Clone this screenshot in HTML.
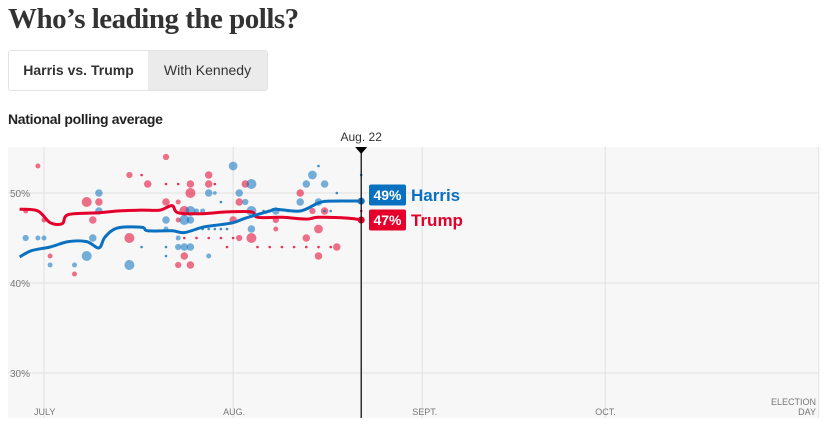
<!DOCTYPE html>
<html><head><meta charset="utf-8"><style>
body{margin:0;background:#fff;width:839px;height:442px;overflow:hidden;font-family:"Liberation Sans",sans-serif;}
h1{position:absolute;left:8px;top:3px;margin:0;font-family:"Liberation Serif",serif;font-weight:bold;font-size:29px;color:#333;letter-spacing:-0.5px}
.tabs{position:absolute;left:8px;top:50px;height:39px;display:flex;border:1px solid #e2e2e2;border-radius:3px;overflow:hidden}
.tab{font-size:14px;line-height:39px;color:#333;white-space:nowrap;text-align:center;box-sizing:border-box}
.t1{font-weight:bold;background:#fff;width:139px;}
.t2{background:#ebebeb;width:119px}
.sub{position:absolute;left:8px;top:111px;font-weight:bold;font-size:14px;color:#222;letter-spacing:-0.3px}
svg{position:absolute;left:0;top:0}
</style></head><body>
<h1>Who’s leading the polls?</h1>
<div class="tabs">
<div class="tab t1">Harris vs. Trump</div>
<div class="tab t2">With Kennedy</div>
</div>
<div class="sub">National polling average</div>
<svg id="c" width="839" height="442"></svg>
<script>
const yTicks=[50,40,30];
const monthLabels=["JULY","AUG.","SEPT.","OCT."];
const monthDays=[0,31,62,92];
const electionDay=127;
const todayDay=52;
const harrisDays=[-4,-2,1,4,7,9,10,12,16,17,21,23,26,28,31,33,37,38,42,45,47,52];
const harrisVals=[42.9,43.6,44.0,44.6,44.6,43.9,45.1,46.1,46.2,45.8,45.8,45.6,46.2,46.4,46.7,47.2,48.0,48.2,48.0,48.9,49.1,49.1];
const trumpDays=[-4,-1,1,3,4,9,12,16,19,21,22,26,30,34,35,39,43,45,50,52];
const trumpVals=[48.2,48.0,46.7,46.6,47.6,47.8,48.0,48.1,48.1,48.6,47.8,47.7,47.9,47.9,47.3,47.3,47.1,47.3,47.2,47.0];
// polls: day, value, size (1 tiny..4 big)
const redPolls=[[-1,53,2],[-3,48,2],[0,47,2],[1,43,2],[5,41,2],[7,49,4],[9,49,3],[8,47,3],[14,45,4],[14,52,2.5],[17,51,3],[16,52,1],[20,54,2.5],[20,49,3],[22,49,2],[24,50,4],[24,51,3],[27,52,3],[27,51,3],[23,48,4],[22,47,2],[23,43,3],[22,42,2.5],[24,42,3],[32,49,3],[31,47,3],[32,45,2.5],[34,45,4],[33,51,3],[38,47,2.5],[38,46,2],[42,50,3],[44,48,2.5],[45,46,3.5],[43,45,3],[45,43,3],[46,48,3],[48,44,3],[52,48,1],[20,51,1],[22,51,1],[28,51,1],
[23,45,1],[25,45,1],[27,45,1],[29,45,1],[31,45,1],[35,44,1],[37,44,1],[39,44,1],[41,44,1],[43,44,1],[45,44,1],[47,44,1],[30,44,1]];
const bluePolls=[[-3,45,2.5],[-1,45,2],[0,45,2],[1,42,2],[5,42,2],[7,43,4],[8,45,3],[9,50,3],[9,48,3],[14,42,4],[16,44,1],[20,47,3],[20,46,2],[20,44,1],[20,43,1],[22,45,2],[22,44,2.5],[23,44,3],[24,44,3],[23,47,4],[24,48,4],[24,47,3],[25,48,2],[26,48,2],[27,50,3],[27,43,2],[28,50,1.5],[29,49,1],[31,53,3.5],[32,50,3],[33,49,2.5],[34,51,4],[34,48,4],[34,46,3],[38,48,3],[42,49,3],[43,51,3],[44,52,3.5],[45,53,1],[46,51,3],[45,49,3],[48,50,1],[52,52,1],
[26,46,1],[27,46,1],[28,46,1],[29,46,1],[30,46,1],[36,48,1],[37,48,1],[40,48,1],[46,48,1],[47,48,1]];
const NS='http://www.w3.org/2000/svg';
const svg=document.getElementById('c');
const X0=8,X1=818,Y0=147,Y1=418;
function xs(d){return 44+d*6.1;}
function ys(v){return 193+(50-v)*9;}
function mk(t,a,p){const e=document.createElementNS(NS,t);for(const k in a)e.setAttribute(k,a[k]);(p||svg).appendChild(e);return e;}
const bg=mk('rect',{x:X0,y:Y0,width:X1-X0,height:Y1-Y0,fill:'#f7f7f7'});


yTicks.forEach(v=>{
 const l=mk('line',{x1:X0,x2:X1,y1:ys(v),y2:ys(v),stroke:'#e0e0e0'});
 
 
 const t=mk('text',{x:10,y:ys(v)+4,'font-size':10,fill:'#777','font-family':'Liberation Sans'});
 t.textContent=v+'%';
 
 
});
monthDays.concat([electionDay]).forEach((d,i)=>{
 const l=mk('line',{x1:xs(d),x2:xs(d),y1:Y0,y2:Y1,stroke:'#e0e0e0'});
 
 
 if(i<monthLabels.length){
 const t=mk('text',{x:xs(d)-10,y:415,'font-size':9,fill:'#777','font-family':'Liberation Sans'});
 t.textContent=monthLabels[i];
 
 }
});
['ELECTION','DAY'].forEach((s,i)=>{
 const t=mk('text',{x:816,y:405+i*10,'font-size':9,fill:'#777','text-anchor':'end','font-family':'Liberation Sans'});
 t.textContent=s;
 
 
});
function dots(arr,col,name){arr.forEach(p=>{
 const r=p[2]<=1?1.3:p[2]*1.25;
 const c=mk('circle',{cx:xs(p[0]),cy:ys(p[1]),r:r,fill:col,'fill-opacity':p[2]<=1?0.8:0.55});
 
 
});}
dots(redPolls,'#e4002b','trump-poll-dot');
dots(bluePolls,'#0a71c0','harris-poll-dot');
function line(days,vals,col,name){
 const pts=days.map((d,i)=>[xs(d),ys(vals[i])]);
 let s='M'+pts[0][0]+','+pts[0][1];
 for(let i=1;i<pts.length;i++){
  const p0=pts[Math.max(0,i-2)],p1=pts[i-1],p2=pts[i],p3=pts[Math.min(pts.length-1,i+1)];
  const c1=[p1[0]+(p2[0]-p0[0])/6,p1[1]+(p2[1]-p0[1])/6];
  const c2=[p2[0]-(p3[0]-p1[0])/6,p2[1]-(p3[1]-p1[1])/6];
  s+=' C'+c1+' '+c2+' '+p2;}
 const p=mk('path',{d:s,fill:'none',stroke:col,'stroke-width':3,'stroke-linejoin':'round'});
 
 
 const e=pts[pts.length-1];
 const c=mk('circle',{cx:e[0],cy:e[1],r:3.5,fill:col});
 
 
 return e;
}
line(trumpDays,trumpVals,'#e4002b','trump-average-line');
line(harrisDays,harrisVals,'#0a71c0','harris-average-line');
const tx=xs(todayDay);
const vl=mk('line',{x1:tx,x2:tx,y1:Y0,y2:Y1,stroke:'#000','stroke-width':1.2});


const tri=mk('path',{d:`M${tx-6},${Y0} L${tx+6},${Y0} L${tx},${Y0+7} Z`,fill:'#000'});


const dl=mk('text',{x:tx,y:141,'font-size':12,'text-anchor':'middle',fill:'#333','font-family':'Liberation Sans'});
dl.textContent='Aug. 22';


function lab(yc,val,name,col,key){
 const g=mk('g',{});
 
 
 mk('rect',{x:369,y:yc-10.5,width:37,height:21,rx:2,fill:col},g);
 const t=mk('text',{x:387.5,y:yc+5,'font-size':14,'font-weight':'bold',fill:'#fff','text-anchor':'middle','font-family':'Liberation Sans'},g);
 t.textContent=val+'%';
 const n=mk('text',{x:411,y:yc+6,'font-size':17,'font-weight':'bold',fill:col,'font-family':'Liberation Sans'},g);
 n.textContent=name;
}
lab(195,Math.round(harrisVals[harrisVals.length-1]),'Harris','#0a71c0','harris');
lab(220,Math.round(trumpVals[trumpVals.length-1]),'Trump','#e4002b','trump');
</script>
</body></html>
